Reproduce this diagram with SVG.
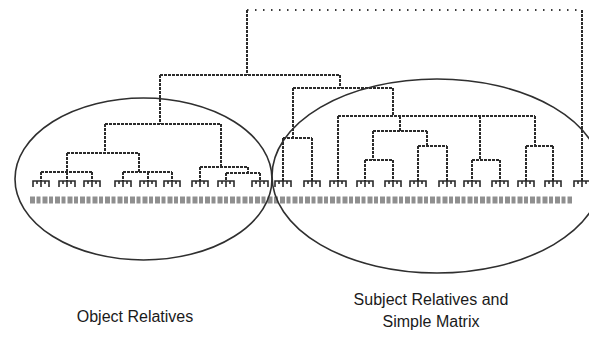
<svg xmlns="http://www.w3.org/2000/svg" xmlns:xlink="http://www.w3.org/1999/xlink" width="589" height="337" viewBox="0 0 589 337">
  <style>
    .bg { fill: #ffffff; }
    .br { fill: none; stroke: #2b2b2b; stroke-width: 2; stroke-dasharray: 3 1; }
    .top { fill: none; stroke: #3a3a3a; stroke-width: 2; stroke-dasharray: 1.5 6.5; }
    .leaf { fill: none; stroke: #2b2b2b; stroke-width: 1.6; }
    .ell { fill: none; stroke: #2f2f2f; stroke-width: 1.6; }
    .lbl { fill: none; stroke: #8f8f8f; stroke-width: 7; stroke-dasharray: 5 1.5 4 2; }
    .cap { font-family: "Liberation Sans", Arial, sans-serif; font-size: 16px; fill: #1a1a1a; text-anchor: middle; }
  </style>
  <defs>
    <path id="lb" d="M-8,187 V181 H8 V187 M0,181 V187 M-4,181 V184 M4,181 V184"/>
  </defs>
  <rect class="bg" x="0" y="0" width="589" height="337"/>

  <g id="connectors">
    <path class="top" d="M247,10 H582"/>
    <path class="br" d="M247,10 V75 M582,10 V181"/>
    <path class="br" d="M160,75 H340 M340,75 V88"/>
    <path class="br" d="M160,75 V124 M105,124 H221 M105,124 V153 M67,153 H139"/>
    <path class="br" d="M67,153 V172 M41,172 H92 M41,172 V181 M67,172 V181 M92,172 V181"/>
    <path class="br" d="M139,153 V172 M123,172 H172 M123,172 V181 M148,172 V181 M172,172 V181"/>
    <path class="br" d="M221,124 V167 M200,167 H248 M200,167 V181 M248,167 V173 M226,173 H260 M226,173 V181 M260,173 V181"/>
    <path class="br" d="M293,88 H393 M293,88 V138 M283,138 H312 M283,138 V181 M312,138 V181"/>
    <path class="br" d="M393,88 V116 M338,116 H535 M338,116 V181"/>
    <path class="br" d="M400,116 V131 M373,131 H427 M373,131 V160 M365,160 H393 M365,160 V181 M393,160 V181"/>
    <path class="br" d="M427,131 V146 M418,146 H447 M418,146 V181 M447,146 V181"/>
    <path class="br" d="M480,116 V160 M472,160 H500 M472,160 V181 M500,160 V181"/>
    <path class="br" d="M535,116 V146 M526,146 H553 M526,146 V181 M553,146 V181"/>
    <g class="leaf">
      <use xlink:href="#lb" x="41"/><use xlink:href="#lb" x="67"/><use xlink:href="#lb" x="92"/>
      <use xlink:href="#lb" x="123"/><use xlink:href="#lb" x="148"/><use xlink:href="#lb" x="172"/>
      <use xlink:href="#lb" x="200"/><use xlink:href="#lb" x="226"/><use xlink:href="#lb" x="260"/>
      <use xlink:href="#lb" x="283"/><use xlink:href="#lb" x="312"/><use xlink:href="#lb" x="338"/>
      <use xlink:href="#lb" x="365"/><use xlink:href="#lb" x="393"/><use xlink:href="#lb" x="418"/>
      <use xlink:href="#lb" x="447"/><use xlink:href="#lb" x="472"/><use xlink:href="#lb" x="500"/>
      <use xlink:href="#lb" x="526"/><use xlink:href="#lb" x="553"/><use xlink:href="#lb" x="582"/>
    </g>
    <path class="lbl" d="M30,200 H572"/>
  </g>

  <g id="object-relatives">
    <ellipse class="ell" cx="143.5" cy="179" rx="128.5" ry="81"/>
    <text class="cap" x="135" y="322">Object Relatives</text>
  </g>

  <g id="subject-relatives">
    <ellipse class="ell" cx="437" cy="176" rx="165" ry="97"/>
    <text class="cap" x="431" y="305">Subject Relatives and</text>
    <text class="cap" x="431" y="327">Simple Matrix</text>
  </g>
</svg>
